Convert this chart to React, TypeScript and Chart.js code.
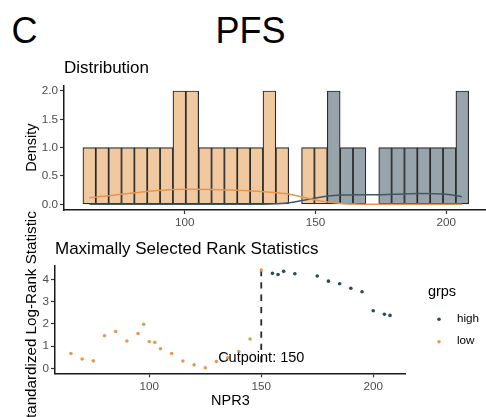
import React, { useEffect, useRef } from "react";
import { Chart, registerables } from "chart.js";

Chart.register(...registerables);

const FONT = "'Liberation Sans', Arial, Helvetica, sans-serif";

// ---------- Data ----------
// Histogram of NPR3 (30 bins), counts per group
const binCenters = [
  63.5, 68.42, 73.34, 78.26, 83.18, 88.1, 93.02, 97.94, 102.86, 107.78,
  112.7, 117.62, 122.54, 127.46, 132.38, 137.3, 142.22, 147.14, 152.06, 156.98,
  161.9, 166.82, 171.74, 176.66, 181.58, 186.5, 191.42, 196.34, 201.26, 206.18,
];
const lowCounts = [
  1, 1, 1, 1, 1, 1, 1, 2, 2, 1,
  1, 1, 1, 1, 2, 1, 0, 1, 1, 0,
  0, 0, 0, 0, 0, 0, 0, 0, 0, 0,
];
const highCounts = [
  0, 0, 0, 0, 0, 0, 0, 0, 0, 0,
  0, 0, 0, 0, 0, 0, 0, 0, 0, 2,
  1, 1, 0, 1, 1, 1, 1, 1, 1, 2,
];

// Density curves
const densityX = [63.5, 70, 80, 90, 100, 110, 120, 130, 135, 140, 145, 150, 155, 160, 165, 170, 180, 190, 200, 206];
const lowDensity = [0.115, 0.145, 0.2, 0.245, 0.265, 0.262, 0.247, 0.223, 0.205, 0.178, 0.13, 0.078, 0.04, 0.016, 0.005, 0.001, 0, 0, 0, 0];
const highDensity = [0, 0, 0, 0, 0, 0, 0.001, 0.003, 0.01, 0.027, 0.068, 0.11, 0.148, 0.163, 0.167, 0.168, 0.178, 0.19, 0.18, 0.135];

// Maximally selected rank statistics
const lowCutpoints = [65, 70, 75, 80, 85, 90, 95, 97.5, 100, 102.5, 105, 110, 115, 120, 125, 130, 135, 140, 145, 150];
const lowStatistic = [0.67, 0.42, 0.34, 1.47, 1.66, 1.23, 1.57, 1.98, 1.21, 1.17, 0.88, 0.67, 0.33, 0.16, 0.03, 0.31, 0.48, 0.76, 1.32, 4.42];
const highCutpoints = [155, 157.5, 160, 165, 175, 180, 185, 190, 195, 200, 205, 207.5];
const highStatistic = [4.27, 4.22, 4.36, 4.25, 4.15, 3.92, 3.8, 3.6, 3.44, 2.59, 2.43, 2.38];

const groupLabels = ["high", "low"];
const cutpoint = 150;
const cutpointLabelY = 0.47;

// ---------- Styles ----------
const LOW_COLOR = "#E69A50";
const HIGH_COLOR = "#2F4A58";
const LOW_FILL = "#F1C9A1";
const HIGH_FILL = "#98A4AB";
const LOW_LINE = "#E3964C";
const HIGH_LINE = "#3F5966";
const AXIS = "#1a1a1a";
const TICK = "#333333";
const TICK_TEXT = "#4d4d4d";

const cutpointPlugin = {
  id: "cutpointLine",
  beforeDatasetsDraw(chart: any) {
    const { ctx, scales } = chart;
    const x = scales.x.getPixelForValue(cutpoint);
    const idx = lowCutpoints.indexOf(cutpoint);
    const top = scales.y.getPixelForValue(lowStatistic[idx]);
    const bottom = scales.y.getPixelForValue(0);
    ctx.save();
    ctx.strokeStyle = "#2a2a2a";
    ctx.lineWidth = 1.8;
    ctx.setLineDash([6.3, 6]);
    ctx.beginPath();
    ctx.moveTo(x, top);
    ctx.lineTo(x, bottom);
    ctx.stroke();
    ctx.restore();
  },
  afterDatasetsDraw(chart: any) {
    const { ctx, scales } = chart;
    const x = scales.x.getPixelForValue(cutpoint);
    const y = scales.y.getPixelForValue(cutpointLabelY);
    ctx.save();
    ctx.fillStyle = "#000";
    ctx.font = `14.5px ${FONT}`;
    ctx.textAlign = "center";
    ctx.textBaseline = "middle";
    ctx.fillText(`Cutpoint: ${cutpoint}`, x, y);
    ctx.restore();
  },
};

const legendPlugin = {
  id: "grpsLegend",
  afterDraw(chart: any) {
    const { ctx, chartArea } = chart;
    const cx = chartArea.right;
    const cy = (chartArea.top + chartArea.bottom) / 2;
    ctx.save();
    ctx.textAlign = "left";
    ctx.textBaseline = "middle";
    ctx.fillStyle = "#000";
    ctx.font = `14.5px ${FONT}`;
    ctx.fillText("grps", cx + 22.2, cy - 28.1);
    chart.data.datasets.forEach((ds: any, i: number) => {
      const y = cy - 0.35 + i * 22.4;
      ctx.fillStyle = ds.backgroundColor;
      ctx.beginPath();
      ctx.arc(cx + 33.3, y, 1.8, 0, Math.PI * 2);
      ctx.fill();
      ctx.fillStyle = "#000";
      ctx.font = `11.7px ${FONT}`;
      ctx.fillText(ds.label, cx + 51.2, y - 0.7);
    });
    ctx.restore();
  },
};

function axisCommon() {
  return {
    border: { display: true, color: AXIS, width: 1.5 },
    grid: {
      display: true,
      drawOnChartArea: false,
      drawTicks: true,
      tickLength: 4,
      color: TICK,
      tickWidth: 1.2,
      offset: false,
    },
  };
}

export default function App() {
  const histRef = useRef<HTMLCanvasElement | null>(null);
  const statRef = useRef<HTMLCanvasElement | null>(null);

  useEffect(() => {
    if (!histRef.current || !statRef.current) return;

    const barStyle = {
      borderColor: "#2a2a2a",
      borderWidth: 1.2,
      borderSkipped: false,
      grouped: false,
      barPercentage: 1,
      categoryPercentage: 1,
      order: 2,
    };

    const hist = new Chart(histRef.current, {
      type: "bar",
      data: {
        datasets: [
          {
            type: "bar",
            label: "low",
            data: binCenters.map((x, i) => ({ x, y: lowCounts[i] || null })),
            backgroundColor: LOW_FILL,
            ...barStyle,
          } as any,
          {
            type: "bar",
            label: "high",
            data: binCenters.map((x, i) => ({ x, y: highCounts[i] || null })),
            backgroundColor: HIGH_FILL,
            ...barStyle,
          } as any,
          {
            type: "line",
            label: "low density",
            data: densityX.map((x, i) => ({ x, y: lowDensity[i] })),
            borderColor: LOW_LINE,
            borderWidth: 1.5,
            pointRadius: 0,
            cubicInterpolationMode: "monotone",
            order: 1,
          } as any,
          {
            type: "line",
            label: "high density",
            data: densityX.map((x, i) => ({ x, y: highDensity[i] })),
            borderColor: HIGH_LINE,
            borderWidth: 1.5,
            pointRadius: 0,
            cubicInterpolationMode: "monotone",
            order: 1,
          } as any,
        ],
      },
      options: {
        responsive: false,
        animation: false,
        events: [],
        layout: { padding: { left: 0, right: 4, top: 0, bottom: 0 } },
        plugins: {
          legend: { display: false },
          tooltip: { enabled: false },
          title: {
            display: true,
            text: "Distribution",
            align: "start",
            fullSize: false,
            color: "#000",
            font: { family: FONT, size: 17, weight: "normal" },
            padding: { top: 3.4, bottom: 6.5 },
          },
        },
        scales: {
          x: {
            type: "linear",
            min: 53.8,
            max: 216,
            offset: false,
            afterFit: (s: any) => {
              s.height = 20;
            },
            ...axisCommon(),
            ticks: {
              stepSize: 50,
              includeBounds: false,
              color: TICK_TEXT,
              font: { family: FONT, size: 11.7 },
              padding: 1.5,
              maxRotation: 0,
            },
          } as any,
          y: {
            type: "linear",
            min: -0.1,
            max: 2.1,
            afterFit: (s: any) => {
              s.width = 64;
            },
            ...axisCommon(),
            ticks: {
              stepSize: 0.5,
              includeBounds: false,
              color: TICK_TEXT,
              font: { family: FONT, size: 11.7 },
              padding: 2,
              callback: (v: any) => Number(v).toFixed(1),
            },
            title: {
              display: true,
              text: "Density",
              color: "#000",
              font: { family: FONT, size: 14.5 },
              padding: { top: 22.8, bottom: 0 },
            },
          } as any,
        },
      },
    });

    const stat = new Chart(statRef.current, {
      type: "scatter",
      data: {
        datasets: [
          {
            label: groupLabels[0],
            data: highCutpoints.map((x, i) => ({ x, y: highStatistic[i] })),
            backgroundColor: HIGH_COLOR,
            borderWidth: 0,
            pointRadius: 1.8,
          },
          {
            label: groupLabels[1],
            data: lowCutpoints.map((x, i) => ({ x, y: lowStatistic[i] })),
            backgroundColor: LOW_COLOR,
            borderWidth: 0,
            pointRadius: 1.8,
          },
        ],
      },
      options: {
        responsive: false,
        animation: false,
        events: [],
        layout: { padding: { left: 0, right: 80.3, top: 0, bottom: 0 } },
        plugins: {
          legend: { display: false },
          tooltip: { enabled: false },
          title: {
            display: true,
            text: "Maximally Selected Rank Statistics",
            align: "start",
            fullSize: false,
            color: "#000",
            font: { family: FONT, size: 17, weight: "normal" },
            padding: { top: 39.4, bottom: 6.2 },
          },
        },
        scales: {
          x: {
            type: "linear",
            min: 57.9,
            max: 214.5,
            afterFit: (s: any) => {
              s.height = 43.7;
            },
            ...axisCommon(),
            ticks: {
              stepSize: 50,
              includeBounds: false,
              color: TICK_TEXT,
              font: { family: FONT, size: 11.7 },
              padding: 2,
              maxRotation: 0,
            },
            title: {
              display: true,
              text: "NPR3",
              color: "#000",
              font: { family: FONT, size: 14.5 },
              padding: { top: 0, bottom: 7.4 },
            },
          } as any,
          y: {
            type: "linear",
            min: -0.22,
            max: 4.6,
            afterFit: (s: any) => {
              s.width = 55;
            },
            ...axisCommon(),
            ticks: {
              stepSize: 1,
              includeBounds: false,
              color: TICK_TEXT,
              font: { family: FONT, size: 11.7 },
              padding: 2,
            },
            title: {
              display: true,
              text: "Standardized Log-Rank Statistic",
              color: "#000",
              font: { family: FONT, size: 15.2 },
              padding: { top: 22.9, bottom: 0 },
            },
          } as any,
        },
      },
      plugins: [cutpointPlugin, legendPlugin],
    });

    return () => {
      hist.destroy();
      stat.destroy();
    };
  }, []);

  const bigText: React.CSSProperties = {
    position: "absolute",
    top: 12.5,
    fontFamily: FONT,
    fontSize: 36,
    lineHeight: "36px",
    color: "#000",
    whiteSpace: "nowrap",
  };

  return (
    <div
      style={{
        position: "fixed",
        left: 0,
        top: 0,
        width: 486,
        height: 417,
        overflow: "hidden",
        background: "#fff",
      }}
    >
      <div style={{ ...bigText, left: 11.5 }}>C</div>
      <div style={{ ...bigText, left: 215.5 }}>PFS</div>
      <canvas
        ref={histRef}
        width={492}
        height={175}
        style={{ position: "absolute", left: 0, top: 55, width: 492, height: 175, display: "block" }}
      />
      <canvas
        ref={statRef}
        width={486}
        height={217}
        style={{ position: "absolute", left: 0, top: 200, width: 486, height: 217, display: "block" }}
      />
    </div>
  );
}
